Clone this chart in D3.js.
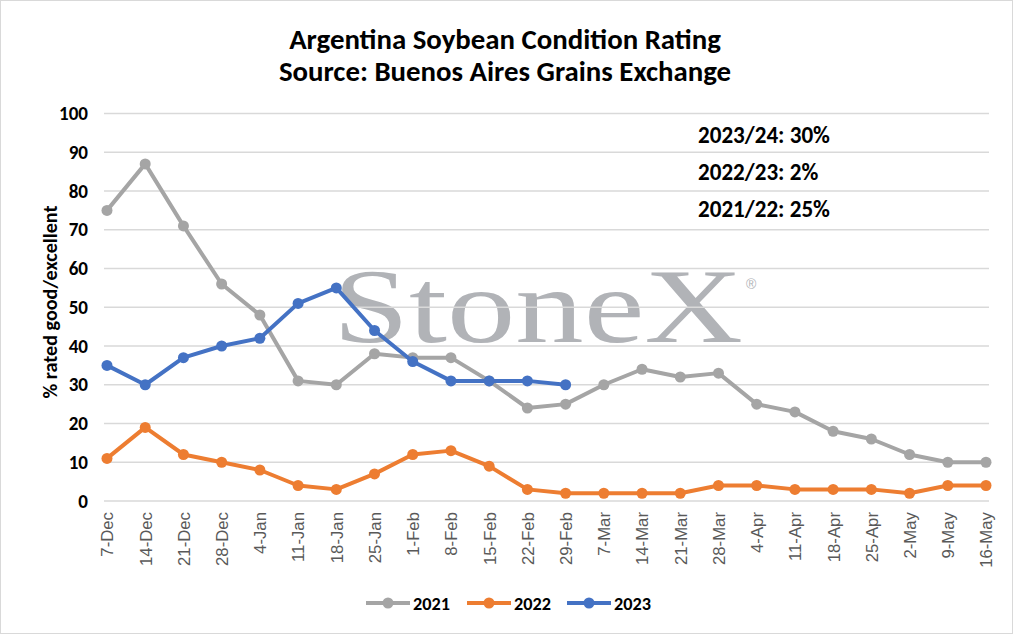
<!DOCTYPE html>
<html><head><meta charset="utf-8">
<script src="https://cdn.jsdelivr.net/npm/d3@7"></script>
<style>
html,body{margin:0;padding:0;background:#fff;}
svg{display:block;}
</style></head>
<body>
<svg id="chart" width="1013" height="634"></svg>
<script>
const categories = ["7-Dec","14-Dec","21-Dec","28-Dec","4-Jan","11-Jan","18-Jan","25-Jan","1-Feb","8-Feb","15-Feb","22-Feb","29-Feb","7-Mar","14-Mar","21-Mar","28-Mar","4-Apr","11-Apr","18-Apr","25-Apr","2-May","9-May","16-May"];
const values2021 = [75,87,71,56,48,31,30,38,37,37,31,24,25,30,34,32,33,25,23,18,16,12,10,10];
const values2022 = [11,19,12,10,8,4,3,7,12,13,9,3,2,2,2,2,4,4,3,3,3,2,4,4];
const values2023 = [35,30,37,40,42,51,55,44,36,31,31,31,30];
const yTicks = [0,10,20,30,40,50,60,70,80,90,100];
const seriesNames = ["2021","2022","2023"];
const seriesColors = ["#a5a5a5","#ed7d31","#4472c4"];
const annotations = ["2023/24: 30%","2022/23: 2%","2021/22: 25%"];
const titleLines = ["Argentina Soybean Condition Rating","Source: Buenos Aires Grains Exchange"];

const svg = d3.select("#chart");
const W = 1013, H = 634;
const font = "Carlito, Calibri, 'Open Sans', Lato, sans-serif";

function fitGroup(sel, targetWidth, idx) {
  const nodes = sel.nodes();
  const ref = nodes[idx || 0];
  const w = ref.getComputedTextLength();
  const fs = +d3.select(ref).attr("font-size");
  sel.attr("font-size", fs * targetWidth / w);
}

svg.append("rect").attr("x",0.5).attr("y",0.5).attr("width",W-1).attr("height",H-1)
  .attr("fill","#fff").attr("stroke","#d9d9d9");

const plotLeft = 104, plotRight = 989, plotTop = 113.5, plotBottom = 501;
const x = d3.scalePoint().domain(categories).range([107, 986]);
const y = d3.scaleLinear().domain([0,100]).range([plotBottom, plotTop]);

// title
const titles = svg.selectAll("text.title").data(titleLines).enter().append("text")
  .attr("class","title")
  .attr("x", 505).attr("y",(d,i)=>49 + i*32)
  .attr("text-anchor","middle")
  .attr("font-family", font).attr("font-weight","bold").attr("font-size",23)
  .attr("fill","#000").text(d=>d);
fitGroup(titles, 432);

// watermark
const wm = svg.append("g");
wm.append("text").attr("x",333).attr("y",342)
  .attr("font-family","'Liberation Serif','DejaVu Serif',serif").attr("font-size",106)
  .attr("fill","#b1b3b7").attr("textLength",410).attr("lengthAdjust","spacingAndGlyphs")
  .text("StoneX");
wm.append("text").attr("x",746).attr("y",289)
  .attr("font-family","'Liberation Sans',sans-serif").attr("font-size",14)
  .attr("fill","#b1b3b7").text("®");

// gridlines
svg.append("g").selectAll("line").data(yTicks).enter().append("line")
  .attr("x1",plotLeft).attr("x2",plotRight)
  .attr("y1",d=>y(d)).attr("y2",d=>y(d))
  .attr("stroke","#d9d9d9").attr("stroke-width",1.5);

// y axis
const yAxis = svg.append("g").attr("transform",`translate(${plotLeft},0)`)
  .call(d3.axisLeft(y).tickValues(yTicks).tickSize(0).tickPadding(16));
yAxis.select(".domain").remove();
const yLabels = yAxis.selectAll("text").attr("font-family",font).attr("font-weight","bold")
  .attr("font-size",16).attr("fill","#000");
fitGroup(yLabels, 29, yTicks.length - 1);

// x axis
const xAxis = svg.append("g").attr("transform",`translate(0,${plotBottom})`)
  .call(d3.axisBottom(x).tickSize(0).tickPadding(0));
xAxis.select(".domain").remove();
const xLabels = xAxis.selectAll("text")
  .attr("font-family","'Liberation Sans', Arial, sans-serif").attr("font-size",16).attr("fill","#595959")
  .attr("text-anchor","end").attr("dy","0.35em")
  .attr("transform","translate(0,11) rotate(-90)");
fitGroup(xLabels, 54, 1);

// y title
const yTitle = svg.append("text").attr("transform","translate(57,302) rotate(-90)")
  .attr("text-anchor","middle").attr("font-family",font).attr("font-weight","bold")
  .attr("font-size",17).attr("fill","#000").text("% rated good/excellent");
fitGroup(yTitle, 193);

// annotations
const anns = svg.selectAll("text.ann").data(annotations).enter().append("text")
  .attr("class","ann").attr("x",698).attr("y",(d,i)=>143 + i*37)
  .attr("font-family",font).attr("font-weight","bold").attr("font-size",18)
  .attr("fill","#000").text(d=>d);
fitGroup(anns, 132);

// lines
const allSeries = [values2021, values2022, values2023];
const line = d3.line().x((d,i)=>x(categories[i])).y(d=>y(d));
allSeries.forEach((vals,si)=>{
  const g = svg.append("g");
  g.append("path").datum(vals).attr("d",line).attr("fill","none")
    .attr("stroke",seriesColors[si]).attr("stroke-width",4).attr("stroke-linejoin","round");
  g.selectAll("circle").data(vals).enter().append("circle")
    .attr("cx",(d,i)=>x(categories[i])).attr("cy",d=>y(d)).attr("r",5.5)
    .attr("fill",seriesColors[si]);
});

// legend
const legendX = [366, 467, 567];
const lg = svg.append("g");
seriesNames.forEach((n,i)=>{
  const g = lg.append("g").attr("transform",`translate(${legendX[i]},603)`);
  g.append("line").attr("x1",0).attr("x2",44).attr("y1",0).attr("y2",0)
    .attr("stroke",seriesColors[i]).attr("stroke-width",4);
  g.append("circle").attr("cx",22).attr("cy",0).attr("r",5.5).attr("fill",seriesColors[i]);
  g.append("text").attr("class","lgtext").attr("x",47).attr("y",6.5).attr("font-family",font).attr("font-weight","bold")
    .attr("font-size",16).attr("fill","#000").text(n);
});
fitGroup(svg.selectAll("text.lgtext"), 37);
</script>
</body></html>
